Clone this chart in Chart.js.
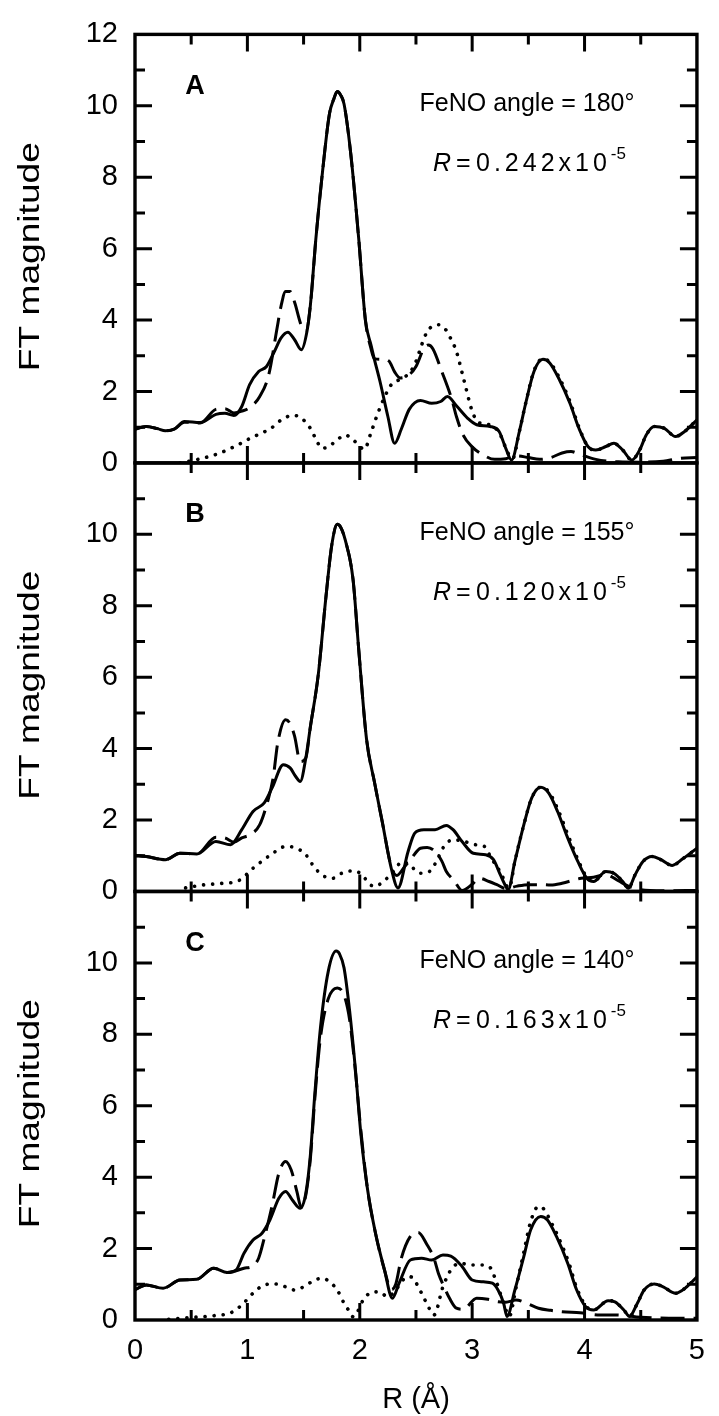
<!DOCTYPE html>
<html>
<head>
<meta charset="utf-8">
<script src="https://cdn.jsdelivr.net/npm/chart.js@4.4.1/dist/chart.umd.min.js"></script>
<style>
  html, body { margin: 0; padding: 0; background: #fff; }
  #wrap { position: relative; width: 719px; height: 1416px; }
  canvas { display: block; }
</style>
</head>
<body>
<div id="wrap"><canvas id="ft" width="719" height="1416"></canvas></div>
<script>
// Fourier-transform magnitude vs R for three FeNO angle models (panels A, B, C).
// Solid = data, long dash = fit, dots = partial contribution.

const panelLetters = ['A', 'B', 'C'];
const feNOAngles = ['180', '155', '140'];
const rFactors = ['0.242', '0.120', '0.163'];
const rFactorExponent = '-5';
const xTitle = 'R (Å)';
const yTitle = 'FT magnitude';

// ---- Panel A (FeNO 180°) ----
const rA_solid = [0,0.1,0.2,0.27,0.35,0.44,0.58,0.72,0.8,0.88,0.95,1.02,1.1,1.17,1.24,1.3,1.36,1.42,1.48,1.53,1.56,1.61,1.67,1.73,1.77,1.8,1.83,1.86,1.92,1.99,2.05,2.1,2.13,2.18,2.25,2.31,2.37,2.44,2.54,2.64,2.72,2.78,2.86,2.96,3.04,3.16,3.24,3.3,3.35,3.42,3.48,3.55,3.63,3.69,3.77,3.87,3.95,4.03,4.1,4.19,4.26,4.34,4.42,4.49,4.55,4.62,4.71,4.81,4.89,5.0];
const ftA_solid = [0.95,1.02,0.96,0.9,0.95,1.16,1.13,1.36,1.39,1.33,1.58,2.19,2.56,2.7,3.12,3.5,3.66,3.45,3.17,3.68,4.4,6.3,8.2,9.77,10.2,10.4,10.3,10.05,8.65,6.3,4.0,3.3,2.9,2.28,1.3,0.55,0.95,1.5,1.75,1.67,1.72,1.86,1.6,1.25,1.07,1.02,0.88,0.4,0.08,0.88,1.72,2.56,2.9,2.8,2.37,1.67,0.97,0.46,0.36,0.46,0.55,0.36,0.08,0.36,0.79,1.02,0.97,0.74,0.88,1.21];

const rA_dashed = [0,0.1,0.2,0.27,0.35,0.44,0.58,0.72,0.8,0.88,0.95,1.02,1.11,1.19,1.26,1.3,1.34,1.38,1.42,1.48,1.52,1.56,1.61,1.67,1.73,1.77,1.8,1.83,1.86,1.92,1.99,2.05,2.1,2.13,2.2,2.26,2.31,2.36,2.44,2.5,2.57,2.61,2.65,2.73,2.82,2.86,2.92,3.0,3.1,3.2,3.3,3.4,3.5,3.6,3.7,3.8,3.88,3.95,4.1,4.3,4.5,4.7,4.85,5.0];
const ftA_dashed = [0.95,1.02,0.96,0.9,0.95,1.14,1.12,1.5,1.52,1.4,1.45,1.55,1.86,2.47,3.7,4.4,4.8,4.8,4.5,3.85,3.7,4.4,6.3,8.2,9.77,10.2,10.4,10.3,10.05,8.65,6.3,4.0,3.2,2.92,2.9,2.85,2.55,2.38,2.47,2.7,3.2,3.3,3.2,2.56,1.77,1.3,0.78,0.45,0.22,0.1,0.12,0.2,0.15,0.1,0.15,0.28,0.32,0.25,0.1,0.03,0.02,0.05,0.13,0.15];

const rA_dotted = [0.4,0.5,0.6,0.75,0.9,1.0,1.1,1.21,1.3,1.4,1.47,1.56,1.62,1.66,1.72,1.8,1.87,1.93,1.99,2.04,2.1,2.15,2.21,2.28,2.38,2.45,2.5,2.55,2.6,2.66,2.7,2.76,2.8,2.86,2.93,3.0,3.05,3.1,3.19,3.25,3.32,3.36,3.42,3.48,3.55,3.63,3.69,3.77,3.87,3.95,4.03,4.1,4.19,4.26,4.34,4.42,4.49,4.55,4.62,4.71,4.81,4.89,5.0];
const ftA_dotted = [0.0,0.06,0.13,0.27,0.48,0.65,0.8,0.97,1.2,1.33,1.28,0.97,0.6,0.41,0.45,0.65,0.78,0.68,0.5,0.38,0.85,1.3,1.77,2.19,2.37,2.55,2.84,3.3,3.68,3.85,3.87,3.75,3.54,3.12,2.28,1.45,1.15,1.1,1.02,0.79,0.27,0.12,0.88,1.72,2.58,2.92,2.82,2.42,1.72,1.0,0.46,0.36,0.46,0.55,0.36,0.08,0.36,0.79,1.02,0.97,0.74,0.88,1.21];

// ---- Panel B (FeNO 155°) ----
const rB_solid = [0,0.1,0.27,0.4,0.55,0.72,0.85,0.95,1.05,1.15,1.22,1.32,1.38,1.43,1.47,1.52,1.56,1.63,1.7,1.75,1.8,1.83,1.87,1.94,1.99,2.06,2.13,2.2,2.28,2.34,2.43,2.49,2.57,2.67,2.77,2.83,2.91,3.01,3.12,3.19,3.25,3.3,3.32,3.38,3.46,3.53,3.61,3.68,3.76,3.85,3.94,4.02,4.08,4.19,4.26,4.34,4.39,4.45,4.52,4.6,4.68,4.78,4.88,5.0];
const ftB_solid = [1.01,0.98,0.89,1.07,1.05,1.4,1.31,1.73,2.24,2.48,2.9,3.55,3.46,3.22,3.08,3.74,4.6,6.05,8.28,9.68,10.28,10.2,9.85,8.74,6.8,4.27,3.07,1.95,0.65,0.1,1.12,1.64,1.73,1.73,1.85,1.73,1.4,1.07,1.03,0.89,0.47,0.14,0.05,0.84,1.87,2.62,2.92,2.76,2.24,1.5,0.84,0.37,0.28,0.56,0.51,0.28,0.09,0.47,0.84,0.98,0.89,0.73,0.93,1.21];

const rB_dashed = [0,0.1,0.27,0.4,0.55,0.72,0.8,0.88,0.95,1.03,1.11,1.18,1.23,1.27,1.34,1.38,1.42,1.47,1.52,1.56,1.63,1.7,1.75,1.8,1.83,1.87,1.94,1.99,2.06,2.13,2.2,2.28,2.33,2.4,2.46,2.54,2.6,2.67,2.73,2.77,2.84,2.91,3.0,3.06,3.15,3.22,3.3,3.4,3.5,3.61,3.7,3.8,3.97,4.08,4.19,4.3,4.39,4.5,4.7,5.0];
const ftB_dashed = [1.01,0.98,0.89,1.07,1.05,1.52,1.5,1.38,1.5,1.6,1.87,2.52,3.2,4.16,4.81,4.7,4.35,3.64,3.74,4.6,6.05,8.28,9.68,10.28,10.2,9.85,8.74,6.8,4.27,3.07,1.95,0.7,0.45,0.7,0.93,1.21,1.23,1.12,0.85,0.56,0.3,0.03,0.2,0.37,0.28,0.19,0.08,0.15,0.19,0.19,0.18,0.23,0.37,0.4,0.47,0.3,0.15,0.05,0.02,0.03];

const rB_dotted = [0.45,0.6,0.75,0.92,1.05,1.21,1.34,1.42,1.52,1.58,1.66,1.76,1.84,1.94,2.02,2.08,2.13,2.21,2.3,2.38,2.44,2.54,2.62,2.69,2.73,2.83,2.93,3.03,3.11,3.17,3.22,3.27,3.3,3.33,3.38,3.46,3.53,3.61,3.68,3.76,3.85,3.94,4.02,4.08,4.19,4.26,4.34,4.39,4.45,4.52,4.6,4.68,4.78,4.88,5.0];
const ftB_dotted = [0.1,0.18,0.22,0.3,0.65,1.03,1.26,1.23,1.03,0.75,0.47,0.37,0.51,0.58,0.47,0.23,0.14,0.28,0.56,0.84,0.75,0.51,0.56,0.89,1.17,1.45,1.4,1.31,1.26,0.93,0.7,0.42,0.19,0.1,0.84,1.87,2.62,2.92,2.8,2.32,1.6,0.9,0.4,0.28,0.56,0.51,0.28,0.09,0.47,0.84,0.98,0.89,0.73,0.93,1.21];

// ---- Panel C (FeNO 140°) ----
const rC_solid = [0,0.1,0.25,0.4,0.55,0.7,0.82,0.9,0.97,1.05,1.13,1.2,1.28,1.34,1.4,1.47,1.52,1.56,1.6,1.65,1.72,1.79,1.82,1.86,1.91,1.96,2.01,2.07,2.14,2.22,2.29,2.35,2.45,2.55,2.64,2.74,2.81,2.91,3.0,3.1,3.18,3.23,3.28,3.31,3.38,3.46,3.52,3.61,3.67,3.75,3.85,3.93,4.01,4.08,4.21,4.27,4.35,4.4,4.47,4.53,4.62,4.7,4.81,4.91,5.0];
const ftC_solid = [0.85,0.98,0.89,1.12,1.14,1.45,1.33,1.4,1.87,2.24,2.43,2.8,3.41,3.6,3.36,3.13,3.55,4.6,6.33,8.18,9.77,10.33,10.25,9.86,8.65,7.06,5.2,3.64,2.43,1.4,0.61,1.03,1.68,1.73,1.68,1.82,1.79,1.5,1.12,1.07,1.03,0.84,0.47,0.1,0.84,1.78,2.52,2.9,2.8,2.34,1.59,0.84,0.37,0.28,0.54,0.51,0.28,0.1,0.47,0.84,1.01,0.93,0.75,0.93,1.21];

const rC_dashed = [0,0.1,0.25,0.4,0.55,0.7,0.82,0.9,0.97,1.04,1.1,1.15,1.22,1.28,1.34,1.39,1.44,1.48,1.52,1.56,1.6,1.65,1.72,1.8,1.86,1.91,1.96,2.01,2.07,2.14,2.22,2.28,2.32,2.37,2.45,2.52,2.6,2.66,2.7,2.75,2.8,2.86,2.92,3.04,3.14,3.23,3.3,3.39,3.5,3.59,3.7,3.8,3.96,4.14,4.27,4.5,4.75,5.0];
const ftC_dashed = [0.85,0.98,0.89,1.12,1.14,1.45,1.33,1.38,1.45,1.5,1.73,2.29,3.2,4.11,4.44,4.2,3.6,3.15,3.5,4.5,6.2,7.9,9.0,9.3,9.1,8.4,7.0,5.3,3.64,2.43,1.4,0.85,1.0,1.73,2.34,2.45,2.1,1.73,1.3,0.93,0.6,0.33,0.3,0.61,0.58,0.51,0.5,0.56,0.45,0.33,0.27,0.23,0.2,0.14,0.14,0.08,0.05,0.05];

const rC_dotted = [0.3,0.5,0.7,0.85,0.95,1.05,1.15,1.24,1.34,1.42,1.5,1.6,1.67,1.73,1.8,1.86,1.91,1.94,1.98,2.03,2.09,2.17,2.25,2.31,2.4,2.45,2.55,2.61,2.66,2.74,2.81,2.89,2.99,3.08,3.15,3.21,3.26,3.3,3.33,3.39,3.46,3.52,3.59,3.64,3.7,3.77,3.86,3.93,4.01,4.08,4.21,4.27,4.35,4.4,4.47,4.53,4.62,4.7,4.81,4.91,5.0];
const ftC_dotted = [0.02,0.07,0.12,0.2,0.42,0.75,0.98,1.01,0.93,0.84,0.93,1.12,1.17,1.07,0.84,0.47,0.23,0.09,0.23,0.56,0.75,0.79,0.65,0.8,1.17,1.21,0.75,0.37,0.14,0.93,1.4,1.59,1.54,1.54,1.5,1.12,0.65,0.28,0.1,0.9,1.9,2.75,3.18,3.1,2.75,2.3,1.6,0.9,0.4,0.28,0.54,0.51,0.28,0.1,0.47,0.84,1.01,0.93,0.75,0.93,1.21];

const FONT = '"Liberation Sans", Arial, Helvetica, sans-serif';

function pairs(xs, ys) { return xs.map((x, i) => ({ x: x, y: ys[i] })); }

const lineStyles = {
  solid:  { borderWidth: 3, borderDash: [], borderCapStyle: 'round' },
  dashed: { borderWidth: 3, borderDash: [24, 9], borderCapStyle: 'butt' },
  dotted: { borderWidth: 3.6, borderDash: [0.1, 9], borderCapStyle: 'round' }
};

function series(xs, ys, axis, style) {
  return Object.assign({
    data: pairs(xs, ys),
    yAxisID: axis,
    borderColor: '#000',
    backgroundColor: '#000',
    pointRadius: 0,
    fill: false,
    cubicInterpolationMode: 'monotone',
    borderJoinStyle: 'round'
  }, lineStyles[style]);
}

const datasets = [
  series(rA_solid, ftA_solid, 'yA', 'solid'),
  series(rA_dashed, ftA_dashed, 'yA', 'dashed'),
  series(rA_dotted, ftA_dotted, 'yA', 'dotted'),
  series(rB_solid, ftB_solid, 'yB', 'solid'),
  series(rB_dashed, ftB_dashed, 'yB', 'dashed'),
  series(rB_dotted, ftB_dotted, 'yB', 'dotted'),
  series(rC_solid, ftC_solid, 'yC', 'solid'),
  series(rC_dashed, ftC_dashed, 'yC', 'dashed'),
  series(rC_dotted, ftC_dotted, 'yC', 'dotted')
];

function panelAxis(weight, showTopLabel) {
  return {
    type: 'linear',
    position: 'left',
    stack: 'panels',
    stackWeight: 1,
    weight: weight,
    min: 0,
    max: 12,
    afterFit: (s) => { s.width = 135; },
    grid: { display: false, drawTicks: false },
    border: { display: false },
    ticks: {
      stepSize: 2,
      color: '#000',
      padding: 17,
      font: { family: FONT, size: 29 },
      callback: (v) => (v === 12 && !showTopLabel) ? '' : String(v)
    },
    title: { display: false }
  };
}

// frames, inward tick marks, panel annotations and the vertical axis titles
const panelDecor = {
  id: 'panelDecor',
  afterDatasetsDraw(chart) {
    const ctx = chart.ctx;
    const xs = chart.scales.x;
    ['yA', 'yB', 'yC'].forEach((id, p) => {
      const ys = chart.scales[id];
      ctx.save();
      ctx.strokeStyle = '#000';
      ctx.fillStyle = '#000';
      ctx.lineWidth = 3.4;
      ctx.strokeRect(xs.left, ys.top, xs.right - xs.left, ys.bottom - ys.top);

      ctx.lineWidth = 3;
      ctx.beginPath();
      for (let k = 1; k < 10; k++) {
        const px = xs.getPixelForValue(k / 2);
        const len = (k % 2 === 0) ? 17 : 10;
        ctx.moveTo(px, ys.top); ctx.lineTo(px, ys.top + len);
        ctx.moveTo(px, ys.bottom); ctx.lineTo(px, ys.bottom - len);
      }
      for (let v = 1; v < 12; v++) {
        const py = ys.getPixelForValue(v);
        const len = (v % 2 === 0) ? 17 : 10;
        ctx.moveTo(xs.left, py); ctx.lineTo(xs.left + len, py);
        ctx.moveTo(xs.right, py); ctx.lineTo(xs.right - len, py);
      }
      ctx.stroke();

      // vertical axis title, drawn a little elongated along its length
      ctx.save();
      ctx.translate(31, (ys.top + ys.bottom) / 2 + 8);
      ctx.rotate(-Math.PI / 2);
      ctx.scale(1.28, 1);
      ctx.textAlign = 'center';
      ctx.textBaseline = 'middle';
      ctx.font = '29px ' + FONT;
      ctx.fillText(yTitle, 0, 0);
      ctx.restore();

      // panel letter
      ctx.textBaseline = 'middle';
      ctx.textAlign = 'center';
      ctx.font = 'bold 27px ' + FONT;
      ctx.fillText(panelLetters[p], xs.left + 60, ys.top + 52);

      // angle label
      ctx.font = '25px ' + FONT;
      ctx.fillText('FeNO angle = ' + feNOAngles[p] + '°', xs.left + 392, ys.top + 70);

      // R-factor label
      ctx.textAlign = 'left';
      let cx = xs.left + 298;
      const cy = ys.top + 130;
      ctx.font = 'italic 25px ' + FONT;
      ctx.fillText('R', cx, cy);
      cx += 23;
      ctx.font = '25px ' + FONT;
      ctx.fillText('=', cx, cy);
      cx += 20;
      ctx.letterSpacing = '4px';
      ctx.fillText(rFactors[p] + 'x10', cx, cy);
      cx += ctx.measureText(rFactors[p] + 'x10').width;
      ctx.letterSpacing = '0px';
      ctx.font = '17px ' + FONT;
      ctx.fillText(rFactorExponent, cx, cy - 10);
      ctx.restore();
    });
  }
};

new Chart(document.getElementById('ft'), {
  type: 'line',
  data: { datasets: datasets },
  options: {
    responsive: false,
    animation: false,
    devicePixelRatio: 1,
    layout: { padding: { left: 0, top: 30, right: 10, bottom: 0 } },
    plugins: { legend: { display: false }, tooltip: { enabled: false } },
    scales: {
      x: {
        type: 'linear',
        position: 'bottom',
        min: 0,
        max: 5,
        afterFit: (s) => { s.height = 96; },
        grid: { display: false, drawTicks: false },
        border: { display: false },
        ticks: {
          stepSize: 1,
          color: '#000',
          padding: 14,
          maxRotation: 0,
          font: { family: FONT, size: 29 }
        },
        title: {
          display: true,
          text: xTitle,
          color: '#000',
          font: { family: FONT, size: 29, lineHeight: 1 },
          padding: { top: 0, bottom: 2 }
        }
      },
      yC: panelAxis(1, false),
      yB: panelAxis(2, false),
      yA: panelAxis(3, true)
    }
  },
  plugins: [panelDecor]
});
</script>
</body>
</html>
